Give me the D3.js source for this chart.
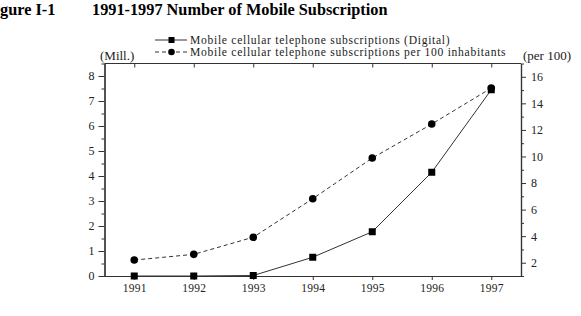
<!DOCTYPE html>
<html><head><meta charset="utf-8">
<script src="https://cdn.jsdelivr.net/npm/d3@7"></script>
<style>body{margin:0;background:#fff}svg{display:block}text{font-family:"Liberation Serif","Times New Roman",serif}</style>
</head><body>
<svg id="c" width="581" height="316"></svg>
<script>
const years = [1991,1992,1993,1994,1995,1996,1997];
const subsMill = [0,0,0.02,0.75,1.77,4.15,7.45];
const per100 = [2.2,2.63,3.92,6.82,9.88,12.44,15.15];
const leftTicks = [0,1,2,3,4,5,6,7,8];
const rightTicks = [2,4,6,8,10,12,14,16];
const seriesNames = ["Mobile cellular telephone subscriptions (Digital)","Mobile cellular telephone subscriptions per 100 inhabitants"];
const titleLeft = "gure I-1";
const titleMain = "1991-1997 Number of Mobile Subscription";

const svg = d3.select("#c");
const L=104.5, R=521, T=63.5, B=276;
const x = d3.scaleLinear().domain([1990.5,1997.5]).range([L,R]);
const yL = d3.scaleLinear().domain([0,8.5]).range([B,T]);
const yR = d3.scaleLinear().domain([1,17]).range([B,T]);
const axCol="#333";

// title
svg.append("text").attr("x",0).attr("y",15).attr("font-size",16.3).attr("font-weight","bold").text(titleLeft);
svg.append("text").attr("x",92).attr("y",15).attr("font-size",16.3).attr("font-weight","bold").text(titleMain);

// frame
svg.append("line").attr("x1",L).attr("x2",R).attr("y1",T).attr("y2",T).attr("stroke",axCol).attr("stroke-width",1.2);

const gL = svg.append("g").attr("transform",`translate(${L},0)`);
gL.call(d3.axisLeft(yL).tickValues(d3.range(0.5,8.5,1)).tickSize(3).tickFormat(""));
const gL2 = svg.append("g").attr("transform",`translate(${L},0)`);
gL2.call(d3.axisLeft(yL).tickValues(leftTicks).tickSize(6).tickSizeOuter(0).tickFormat(d3.format("d")));
const gR = svg.append("g").attr("transform",`translate(${R},0)`);
gR.call(d3.axisRight(yR).tickValues(d3.range(3,17,2)).tickSize(3).tickFormat(""));
const gR2 = svg.append("g").attr("transform",`translate(${R},0)`);
gR2.call(d3.axisRight(yR).tickValues(rightTicks).tickSize(5).tickSizeOuter(0).tickFormat(d3.format("d")));
const gB = svg.append("g").attr("transform",`translate(0,${B})`);
gB.call(d3.axisBottom(x).tickValues(years).tickSize(4).tickSizeOuter(0).tickFormat(d3.format("d")).tickPadding(4));
const gT = svg.append("g").attr("transform",`translate(0,${T})`);
gT.call(d3.axisBottom(x).tickValues(years).tickSize(4).tickSizeOuter(0).tickFormat(""));
[gL,gL2,gR,gR2,gB,gT].forEach(g=>{
  g.selectAll("path.domain").attr("stroke",axCol).attr("stroke-width",1.2);
  g.selectAll("line").attr("stroke",axCol).attr("stroke-width",1);
  g.selectAll("text").attr("font-family","Liberation Serif, serif").attr("font-size",12).attr("fill","#222");
});
gT.select("path.domain").remove();
gL2.selectAll("text").attr("x",-10);
gR2.selectAll("text").attr("x",10);
gB.selectAll("text").attr("font-size",11.5).attr("letter-spacing",0.3);

// unit labels
svg.append("text").attr("x",100).attr("y",60).attr("font-size",13).attr("fill","#222").text("(Mill.)");
svg.append("text").attr("x",523).attr("y",60).attr("font-size",13).attr("fill","#222").text("(per 100)");

// lines
const line1 = d3.line().x((d,i)=>x(years[i])).y(d=>yL(d));
const line2 = d3.line().x((d,i)=>x(years[i])).y(d=>yR(d));
svg.append("path").datum(per100).attr("d",line2).attr("fill","none").attr("stroke","#333").attr("stroke-width",1).attr("stroke-dasharray","4,3");
svg.append("path").datum(subsMill).attr("d",line1).attr("fill","none").attr("stroke","#333").attr("stroke-width",1);
svg.selectAll("circle.p").data(per100).enter().append("circle").attr("cx",(d,i)=>x(years[i])).attr("cy",d=>yR(d)).attr("r",3.8).attr("fill","#000");
svg.selectAll("rect.p").data(subsMill).enter().append("rect").attr("x",(d,i)=>x(years[i])-3.5).attr("y",d=>yL(d)-3.5).attr("width",7).attr("height",7).attr("fill","#000");

// legend
const lg = svg.append("g");
[0,1].forEach(k=>{
  const yy = k===0?40:52;
  lg.append("line").attr("x1",155).attr("x2",187).attr("y1",yy).attr("y2",yy).attr("stroke","#333").attr("stroke-width",1).attr("stroke-dasharray",k===0?null:"4,3");
  if(k===0) lg.append("rect").attr("x",168.5).attr("y",yy-3).attr("width",6).attr("height",6).attr("fill","#000");
  else lg.append("circle").attr("cx",171.5).attr("cy",yy).attr("r",3.3).attr("fill","#000");
  lg.append("text").attr("x",190).attr("y",yy+4).attr("font-size",11.6).attr("letter-spacing",0.7).attr("fill","#222").text(seriesNames[k]);
});
</script>
</body></html>
